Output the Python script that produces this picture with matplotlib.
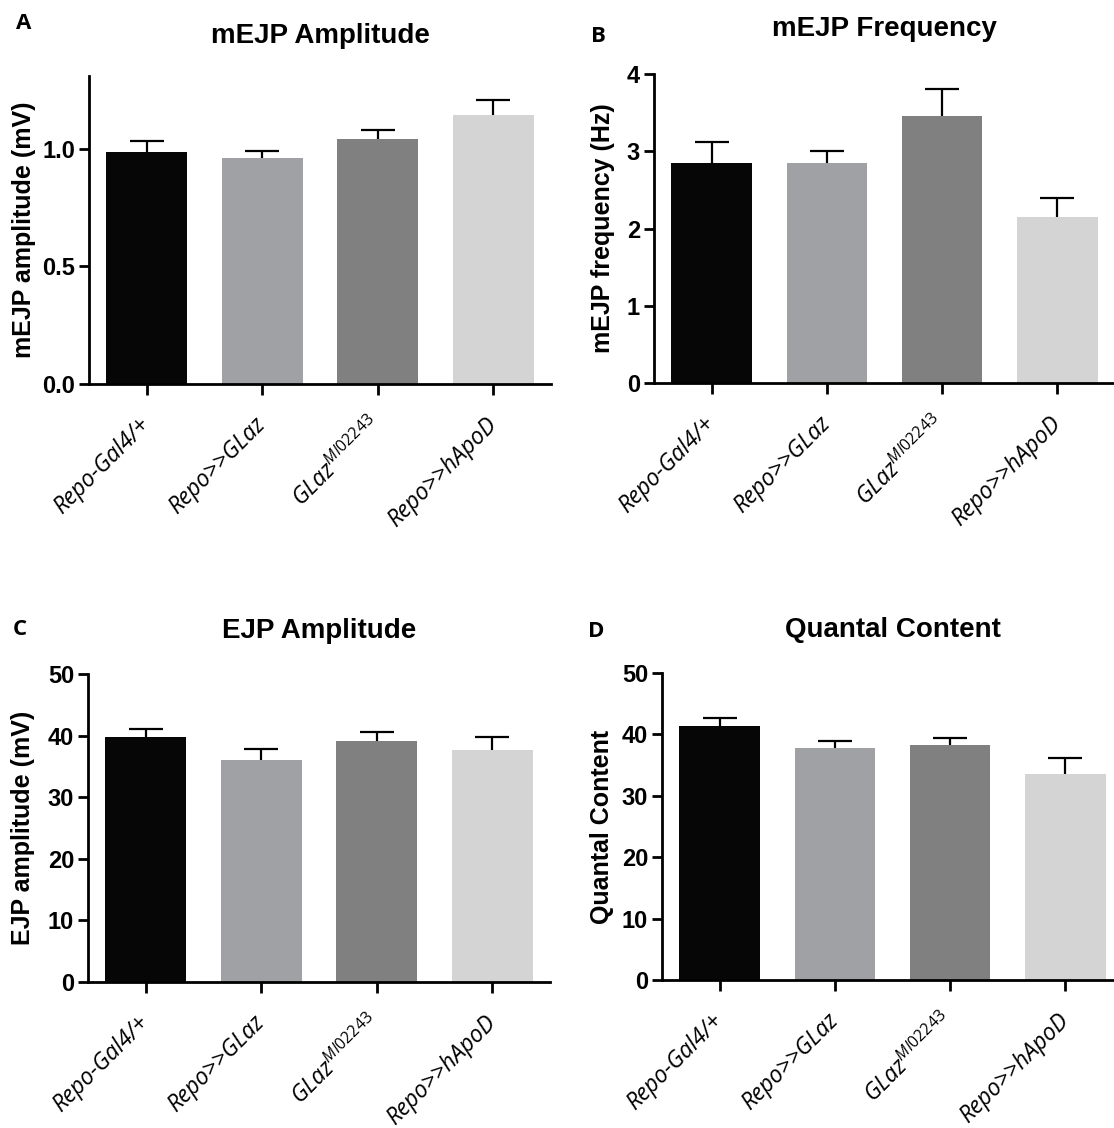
import matplotlib
matplotlib.use("Agg")
import matplotlib.pyplot as plt
import matplotlib.transforms as mtransforms
import numpy as np

# ---------------- data ----------------
categories = ["Repo-Gal4/+", "Repo>>GLaz", r"GLaz$^{\mathit{MI02243}}$", "Repo>>hApoD"]
bar_colors = ["#060606", "#A0A1A5", "#808080", "#D4D4D4"]

mejp_amp = [0.986, 0.961, 1.042, 1.142]
mejp_amp_err = [0.049, 0.031, 0.040, 0.064]

mejp_freq = [2.85, 2.85, 3.45, 2.15]
mejp_freq_err = [0.27, 0.15, 0.35, 0.24]

ejp_amp = [39.7, 36.1, 39.2, 37.7]
ejp_amp_err = [1.4, 1.8, 1.4, 2.0]

quantal = [41.3, 37.8, 38.2, 33.5]
quantal_err = [1.4, 1.1, 1.2, 2.7]

titles = ["mEJP Amplitude", "mEJP Frequency", "EJP Amplitude", "Quantal Content"]
ylabels = ["mEJP amplitude (mV)", "mEJP frequency (Hz)", "EJP amplitude (mV)", "Quantal Content"]
yticks_list = [[0.0, 0.5, 1.0], [0, 1, 2, 3, 4], [0, 10, 20, 30, 40, 50], [0, 10, 20, 30, 40, 50]]
ytick_fmt = ["{:.1f}", "{:d}", "{:d}", "{:d}"]
ylims = [(0, 1.31), (0, 4), (0, 50), (0, 50)]
panel_letters = ["A", "B", "C", "D"]

# ---------------- style ----------------
plt.rcParams["font.family"] = ["Liberation Sans", "DejaVu Sans"]
plt.rcParams["mathtext.fontset"] = "custom"
plt.rcParams["mathtext.it"] = "Open Sans:italic"
plt.rcParams["mathtext.rm"] = "Open Sans"

W, H = 1114, 1128
fig = plt.figure(figsize=(W / 100, H / 100), dpi=100)

def pos(left, right, top, bottom):
    return [left / W, 1 - bottom / H, (right - left) / W, (bottom - top) / H]

axes_px = [
    (89, 551, 76, 384),
    (654, 1115, 74, 383),
    (88, 550, 674, 982),
    (662, 1123, 673, 980),
]
title_pad_px = [33, 38, 36, 36]
ylabel_x_px = [36, 615, 35, 614]
letter_pos = [(16, 29), (591, 42), (13, 635), (588, 637)]

datasets = [(mejp_amp, mejp_amp_err), (mejp_freq, mejp_freq_err),
            (ejp_amp, ejp_amp_err), (quantal, quantal_err)]

x = np.arange(len(categories))
for i, (vals, errs) in enumerate(datasets):
    l, r, t, b = axes_px[i]
    ax = fig.add_axes(pos(l, r, t, b))
    ax.errorbar(x, vals, yerr=errs, fmt="none",
                ecolor="black", elinewidth=1.6, capsize=12, capthick=1.6, zorder=1)
    ax.bar(x, vals, width=0.70, color=bar_colors, zorder=2)
    ax.set_xlim(-0.5, 3.5)
    ax.set_ylim(*ylims[i])
    ax.set_yticks(yticks_list[i])
    ax.set_yticklabels([ytick_fmt[i].format(v) for v in yticks_list[i]],
                       fontsize=17, fontweight="bold")
    ax.set_xticks(x)
    ax.set_xticklabels(categories, rotation=45, ha="right", va="center",
                       rotation_mode="anchor", fontsize=16.5, fontstyle="italic",
                       family=["Open Sans", "DejaVu Sans"])
    offset = mtransforms.ScaledTranslation(-7 / 100, 0, fig.dpi_scale_trans)
    for lab in ax.get_xticklabels():
        lab.set_transform(lab.get_transform() + offset)
    ax.tick_params(axis="x", length=8, width=2, pad=19)
    ax.tick_params(axis="y", length=7, width=2, pad=3)
    for s in ["top", "right"]:
        ax.spines[s].set_visible(False)
    for s in ["left", "bottom"]:
        ax.spines[s].set_linewidth(2)
    ax.set_title(titles[i], fontsize=20, fontweight="bold", pad=title_pad_px[i] * 0.72)
    ax.set_ylabel(ylabels[i], fontsize=18, fontweight="bold")
    ax.yaxis.set_label_coords((ylabel_x_px[i] - l) / (r - l), 0.5)
    lx, ly = letter_pos[i]
    fig.text(lx / W, 1 - ly / H, panel_letters[i], fontsize=16, fontweight="bold",
             family=["Open Sans", "DejaVu Sans"], va="baseline", ha="left")

fig.savefig("out.png", dpi=100)
